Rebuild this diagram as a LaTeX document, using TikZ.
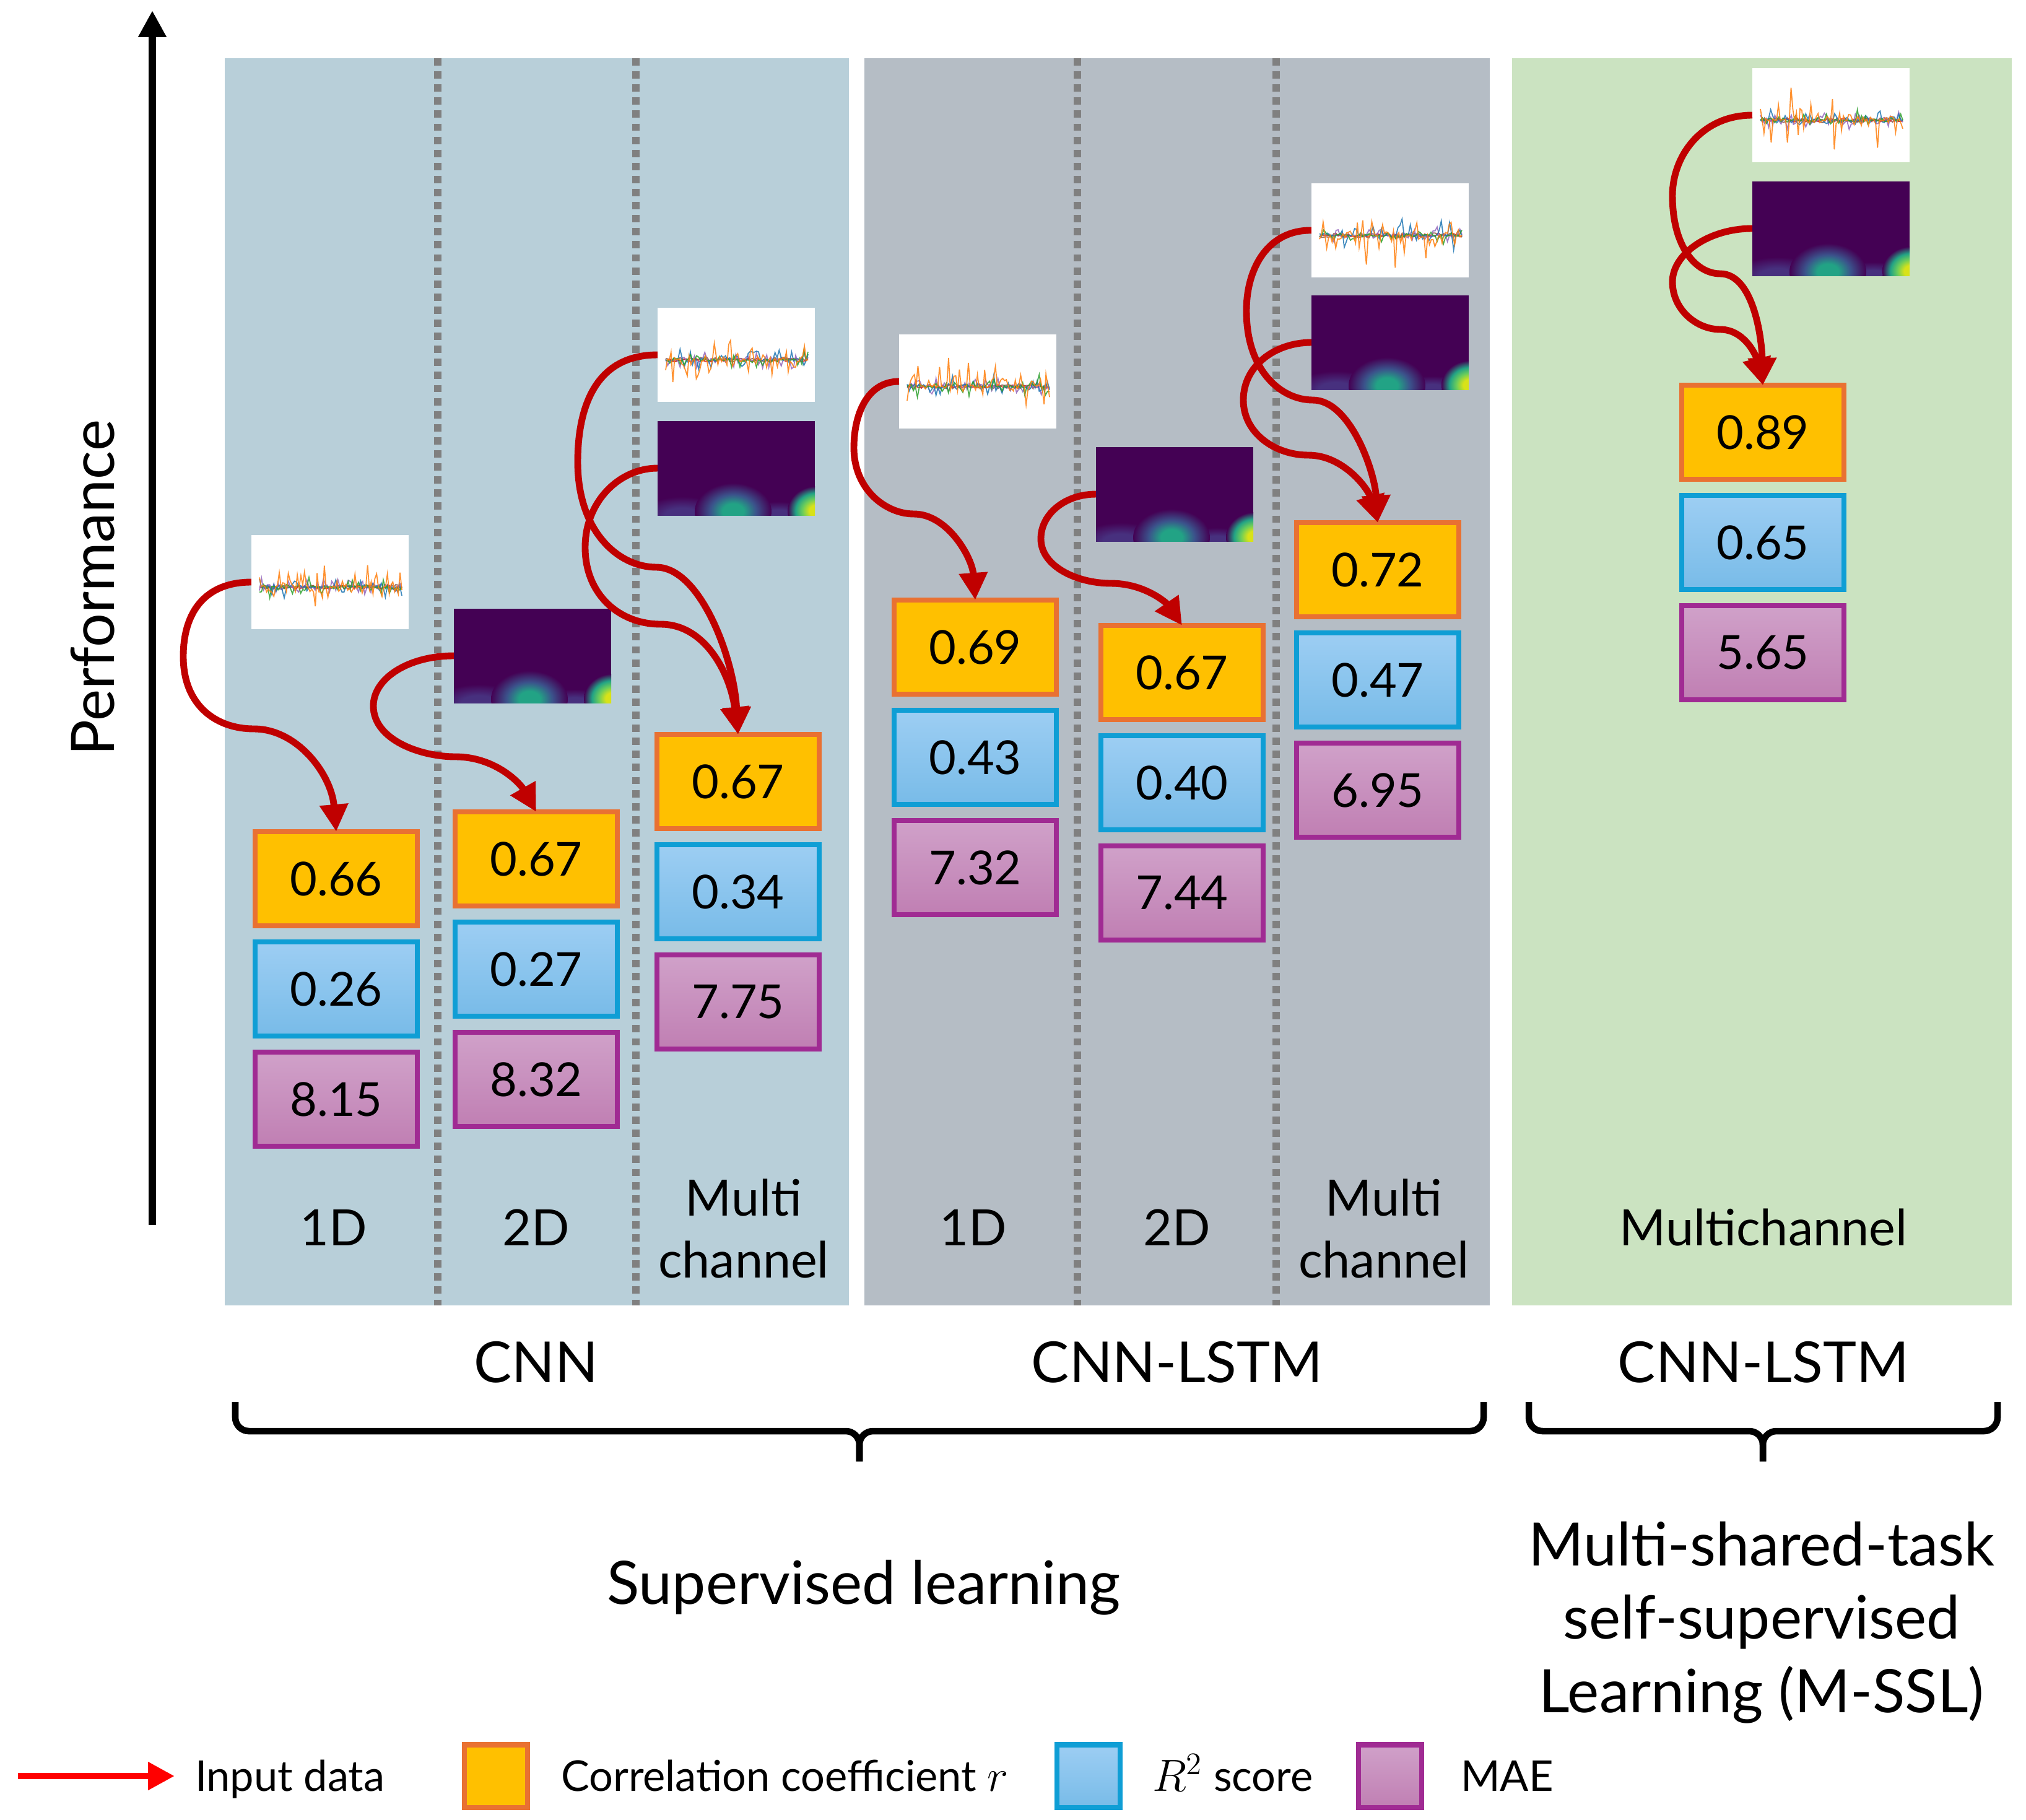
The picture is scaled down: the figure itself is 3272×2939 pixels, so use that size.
\documentclass[tikz,border=0pt]{standalone}
\usepackage{fontspec}
\setmainfont{Lato}
\usetikzlibrary{arrows.meta}

\definecolor{cnnbg}{HTML}{B8CFD9}
\definecolor{lstmbg}{HTML}{B5BDC5}
\definecolor{sslbg}{HTML}{CBE3C1}
\definecolor{dotgray}{HTML}{808080}
\definecolor{arrred}{HTML}{C00000}
\definecolor{orfill}{HTML}{FFC000}
\definecolor{ordraw}{HTML}{E97132}
\definecolor{bltop}{HTML}{9DCEF3}
\definecolor{blbot}{HTML}{78BBE8}
\definecolor{bldraw}{HTML}{0F9ED5}
\definecolor{putop}{HTML}{D0A1C9}
\definecolor{pubot}{HTML}{C07FB3}
\definecolor{pudraw}{HTML}{A02B93}
\definecolor{tabblue}{HTML}{1F77B4}
\definecolor{taborange}{HTML}{FF7F0E}
\definecolor{tabgreen}{HTML}{2CA02C}
\definecolor{tabred}{HTML}{D62728}
\definecolor{tabpurple}{HTML}{9467BD}
\definecolor{tabbrown}{HTML}{8C564B}
\definecolor{vdark}{HTML}{440154}
\definecolor{vpur}{HTML}{47307E}
\definecolor{vblue}{HTML}{3B528B}
\definecolor{vteal}{HTML}{22A385}
\definecolor{vlime}{HTML}{6CCD5A}
\definecolor{vyel}{HTML}{D8E219}

\pgfdeclareradialshading{tealblob}{\pgfpoint{0bp}{0bp}}{color(0bp)=(vteal); color(7bp)=(vteal); color(15bp)=(vblue); color(25bp)=(vdark); color(50bp)=(vdark)}
\pgfdeclareradialshading{yelblob}{\pgfpoint{0bp}{0bp}}{color(0bp)=(vyel); color(6bp)=(vyel); color(12bp)=(vlime); color(18bp)=(vteal); color(25bp)=(vdark); color(50bp)=(vdark)}
\pgfdeclareradialshading{purblob}{\pgfpoint{0bp}{0bp}}{color(0bp)=(vpur); color(10bp)=(vpur); color(25bp)=(vdark); color(50bp)=(vdark)}

\tikzset{
  every node/.style={inner sep=0pt, outer sep=0pt},
  val/.style={minimum width=2.61cm, minimum height=1.52cm, line width=2.28pt, font=\fontsize{21.5pt}{26pt}\selectfont},
  rbox/.style={val, fill=orfill, draw=ordraw},
  qbox/.style={val, top color=bltop, bottom color=blbot, draw=bldraw},
  mbox/.style={val, top color=putop, bottom color=pubot, draw=pudraw},
  legbox/.style={minimum width=1.02cm, minimum height=1.01cm, line width=2.28pt},
  inarrow/.style={draw=arrred, line width=3.1pt, -{Triangle[length=12.5pt,width=12.5pt]}},
  dotline/.style={draw=dotgray, line width=3.4pt, dash pattern=on 3.4pt off 2.6pt},
  bracel/.style={line width=3pt, rounded corners=0.22cm},
  lbl/.style={font=\fontsize{23pt}{28.7pt}\selectfont, align=center},
  grp/.style={font=\fontsize{26pt}{31pt}\selectfont},
  big/.style={font=\fontsize{27.5pt}{33.6pt}\selectfont},
  legf/.style={font=\fontsize{19.5pt}{24pt}\selectfont},
  imgbox/.style={minimum width=2.54cm, minimum height=1.52cm},
  sigl/.style={line width=0.5pt, opacity=0.85},
}

\newcommand\valcol[6]{%
  \node[rbox] (#1r) at ({#2},{#3+80}) {#4};
  \node[qbox] (#1q) at ({#2},{#3+258}) {#5};
  \node[mbox] (#1m) at ({#2},{#3+436}) {#6};
}

\newcommand\sigimg[4]{%
  \begin{scope}[shift={(#2,#3)}]
    \node[imgbox,fill=white] (#1) at (127,76) {};
    \pgfmathsetseed{#4}
    \draw[tabbrown,sigl] plot[domain=13:243,samples=70,variable=\t] (\t,{84+4*rand});
    \draw[tabred,sigl] plot[domain=13:243,samples=70,variable=\t] (\t,{84+3*rand});
    \draw[tabpurple,sigl] plot[domain=13:243,samples=70,variable=\t] (\t,{84+16*rand*rand});
    \draw[tabblue,sigl] plot[domain=13:243,samples=70,variable=\t] (\t,{84+30*rand*rand*rand});
    \draw[tabgreen,sigl] plot[domain=13:243,samples=70,variable=\t] (\t,{84+28*rand*rand*rand});
    \draw[taborange,sigl] plot[domain=13:243,samples=80,variable=\t] (\t,{84+72*rand*rand*rand});
  \end{scope}}

\newcommand\specimg[3]{%
  \begin{scope}[shift={(#2,#3)}]
    \node[imgbox,fill=vdark] (#1) at (127,76) {};
    \begin{scope}
      \clip (0,0) rectangle (254,152);
      \shade[shading=purblob] (40,152) ellipse (70 and 30);
      \shade[shading=purblob] (195,152) ellipse (55 and 22);
      \shade[shading=tealblob] (122,146) ellipse (62 and 46);
      \shade[shading=yelblob] (256,145) ellipse (46 and 40);
    \end{scope}
  \end{scope}}

\begin{document}
\begin{tikzpicture}[x=0.01cm,y=-0.01cm]
\useasboundingbox (0,0) rectangle (3272,2939);

% panels
\fill[cnnbg] (363,94) rectangle (1371,2108);
\fill[lstmbg] (1396,94) rectangle (2406,2108);
\fill[sslbg] (2442,94) rectangle (3249,2108);

% separators
\draw[dotline] (707,94) -- (707,2108);
\draw[dotline] (1027,94) -- (1027,2108);
\draw[dotline] (1740,94) -- (1740,2108);
\draw[dotline] (2061,94) -- (2061,2108);

% performance axis
\coordinate (ax0) at (246,1978);
\coordinate (ax1) at (246,17);
\draw[line width=3.4pt, -{Triangle[length=12.2pt,width=12.2pt]}] (ax0) -- (ax1);
\node[big, rotate=90] (perf) at (150,949) {Performance};

% input images
\sigimg{s1}{406}{864}{11}
\specimg{p2}{733}{983}
\sigimg{s3}{1062}{497}{23}
\specimg{p3}{1062}{680}
\sigimg{s4}{1452}{540}{37}
\specimg{p5}{1770}{722}
\sigimg{s6}{2118}{296}{41}
\specimg{p6}{2118}{477}
\sigimg{s7}{2830}{110}{53}
\specimg{p7}{2830}{293}

% value boxes
\valcol{b1}{543}{1339}{0.66}{0.26}{8.15}
\valcol{b2}{866}{1307}{0.67}{0.27}{8.32}
\valcol{b3}{1192}{1182}{0.67}{0.34}{7.75}
\valcol{b4}{1575}{965}{0.69}{0.43}{7.32}
\valcol{b5}{1909}{1006}{0.67}{0.40}{7.44}
\valcol{b6}{2225}{840}{0.72}{0.47}{6.95}
\valcol{b7}{2847}{618}{0.89}{0.65}{5.65}

% input arrows
\draw[inarrow] (s1.west) .. controls (330,940) and (296,990) .. (296,1060) .. controls (296,1140) and (350,1177) .. (410,1177) .. controls (480,1177) and (535,1250) .. (b1r.north);
\draw[inarrow] (p2.west) .. controls (660,1059) and (603,1095) .. (603,1140) .. controls (603,1195) and (680,1222) .. (735,1222) .. controls (800,1222) and (840,1265) .. (b2r.north);
\draw[inarrow] (s3.west) .. controls (960,573) and (933,660) .. (933,746) .. controls (933,860) and (1000,916) .. (1060,916) .. controls (1130,916) and (1185,1060) .. (b3r.north);
\draw[inarrow] (p3.west) .. controls (1000,756) and (945,810) .. (945,884) .. controls (945,960) and (1000,1008) .. (1067,1008) .. controls (1140,1008) and (1180,1090) .. (b3r.north);
\draw[inarrow] (s4.west) .. controls (1400,616) and (1379,670) .. (1379,723) .. controls (1379,790) and (1430,830) .. (1476,830) .. controls (1530,830) and (1570,900) .. (b4r.north);
\draw[inarrow] (p5.west) .. controls (1720,798) and (1681,830) .. (1681,870) .. controls (1681,915) and (1740,942) .. (1794,942) .. controls (1850,942) and (1885,975) .. (b5r.north);
\draw[inarrow] (s6.west) .. controls (2050,371) and (2013,430) .. (2013,502) .. controls (2013,600) and (2070,646) .. (2120,646) .. controls (2180,646) and (2220,760) .. (b6r.north);
\draw[inarrow] (p6.west) .. controls (2060,553) and (2008,590) .. (2008,646) .. controls (2008,700) and (2060,735) .. (2113,735) .. controls (2170,735) and (2210,790) .. (b6r.north);
\draw[inarrow] (s7.west) .. controls (2750,186) and (2701,250) .. (2701,316) .. controls (2701,400) and (2740,442) .. (2778,442) .. controls (2830,442) and (2845,540) .. (b7r.north);
\draw[inarrow] (p7.west) .. controls (2760,369) and (2701,410) .. (2701,455) .. controls (2701,500) and (2740,532) .. (2778,532) .. controls (2815,532) and (2835,570) .. (b7r.north);

% column labels
\node[lbl] (l1) at (539,1982) {1D};
\node[lbl] (l2) at (866,1982) {2D};
\node[lbl] (l3) at (1201,1984) {Multi\\channel};
\node[lbl] (l4) at (1572,1982) {1D};
\node[lbl] (l5) at (1901,1982) {2D};
\node[lbl] (l6) at (2235,1984) {Multi\\channel};
\node[lbl] (l7) at (2848,1982) {Multichannel};

% group labels
\node[grp, anchor=base] (g1) at (866,2232) {CNN};
\node[grp, anchor=base] (g2) at (1901,2232) {CNN-LSTM};
\node[grp, anchor=base] (g3) at (2848,2232) {CNN-LSTM};

% braces
\coordinate (br1a) at (380,2264);
\coordinate (br1b) at (2396,2264);
\coordinate (br1t) at (1388,2360);
\coordinate (br2a) at (2469,2264);
\coordinate (br2b) at (3226,2264);
\coordinate (br2t) at (2847,2360);
\draw[bracel] (br1a) -- ++(0,47) -| (br1t);
\draw[bracel] (br1b) -- ++(0,47) -| (br1t);
\draw[bracel] (br2a) -- ++(0,47) -| (br2t);
\draw[bracel] (br2b) -- ++(0,47) -| (br2t);

\node[big, anchor=base] (sup) at (1395,2590) {Supervised learning};
\node[big, anchor=base] (ms1) at (2845,2528) {Multi-shared-task};
\node[big, anchor=base] (ms2) at (2845,2646) {self-supervised};
\node[big, anchor=base] (ms3) at (2845,2765) {Learning (M-SSL)};

% legend
\coordinate (lgA) at (29,2868);
\coordinate (lgB) at (282,2868);
\draw[line width=3.1pt, red, -{Triangle[length=12.2pt,width=12.2pt]}] (lgA) -- (lgB);
\node[legf, anchor=base west] (lt1) at (315,2892) {Input data};
\node[legbox, fill=orfill, draw=ordraw] (lb1) at (801,2868) {};
\node[legf, anchor=base west] (lt2) at (906,2892) {Correlation coefficient $r$};
\node[legbox, top color=bltop, bottom color=blbot, draw=bldraw] (lb2) at (1758,2868) {};
\node[legf, anchor=base west] (lt3) at (1861,2892) {$R^2$ score};
\node[legbox, top color=putop, bottom color=pubot, draw=pudraw] (lb3) at (2245,2868) {};
\node[legf, anchor=base west] (lt4) at (2359,2892) {MAE};
\end{tikzpicture}
\end{document}
